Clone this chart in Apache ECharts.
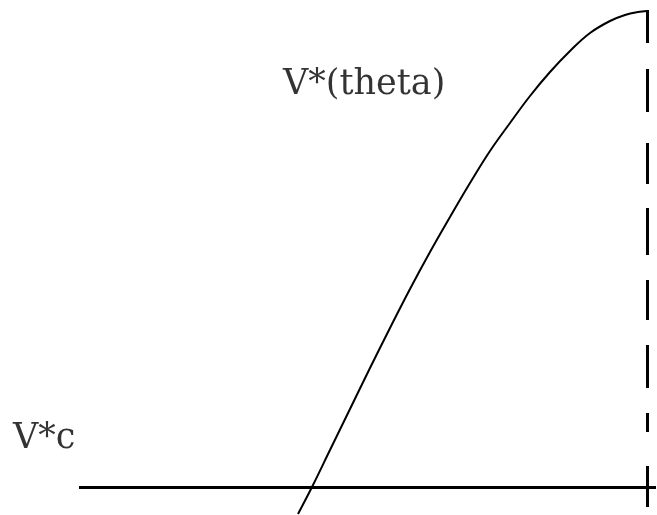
<!DOCTYPE html>
<html>
<head>
<meta charset="utf-8">
<script src="https://cdn.jsdelivr.net/npm/echarts@6/dist/echarts.min.js"></script>
<style>
  html, body { margin: 0; padding: 0; background: #ffffff; }
  #chart { width: 657px; height: 515px; }
</style>
</head>
<body>
<div id="chart"></div>
<script>
// Value curve V*(theta): theta positions and matching values
const thetaValues = [298, 312, 330, 350, 370, 390, 410, 430, 450, 470, 490, 510, 530, 550, 570, 590, 610, 625, 638, 647];
const vValues     = [1, 28, 65, 106, 147, 187, 226, 263, 298, 332, 364, 392, 419, 443, 464, 482, 494, 500, 503, 504];

// Threshold level V*c, drawn as a horizontal rule
const vcLevel = 28;
const vcThetaRange = [79, 656];

// Upper bound of theta, drawn as a dashed vertical rule (dash segments as [from, to])
const thetaMax = 647;
const dashTops    = [505, 446, 372, 307, 235, 170, 102, 49];
const dashBottoms = [472, 403, 331, 260, 195, 127, 83, 8];

// Text labels and their anchor points
const labelTexts  = ['V*(theta)', 'V*c'];
const labelThetas = [283, 13];
const labelVs     = [430, 76];

const chart = echarts.init(document.getElementById('chart'), null, { renderer: 'canvas' });

const curveData = thetaValues.map((t, i) => [t, vValues[i]]);
const dashData = dashTops.map((top, i) => ({ coords: [[thetaMax, top], [thetaMax, dashBottoms[i]]] }));
const labelData = labelTexts.map((txt, i) => ({ value: [labelThetas[i], labelVs[i]], name: txt }));

chart.setOption({
  animation: false,
  backgroundColor: '#ffffff',
  grid: { left: 0, right: 0, top: 0, bottom: 0 },
  xAxis: { type: 'value', min: 0, max: 657, show: false },
  yAxis: { type: 'value', min: 0, max: 515, show: false },
  series: [
    {
      type: 'line',
      data: curveData,
      smooth: 0.4,
      symbol: 'none',
      lineStyle: { color: '#000000', width: 2 }
    },
    {
      type: 'lines',
      coordinateSystem: 'cartesian2d',
      data: [{ coords: [[vcThetaRange[0], vcLevel], [vcThetaRange[1], vcLevel]] }],
      lineStyle: { color: '#000000', width: 3, opacity: 1 }
    },
    {
      type: 'lines',
      coordinateSystem: 'cartesian2d',
      data: dashData,
      lineStyle: { color: '#000000', width: 3, opacity: 1 }
    },
    {
      type: 'scatter',
      data: labelData,
      symbolSize: 0,
      label: {
        show: true,
        position: 'inside',
        align: 'left',
        verticalAlign: 'middle',
        formatter: p => p.name,
        fontFamily: 'DejaVu Serif',
        fontSize: 35,
        color: '#000000'
      }
    }
  ]
});
</script>
</body>
</html>
